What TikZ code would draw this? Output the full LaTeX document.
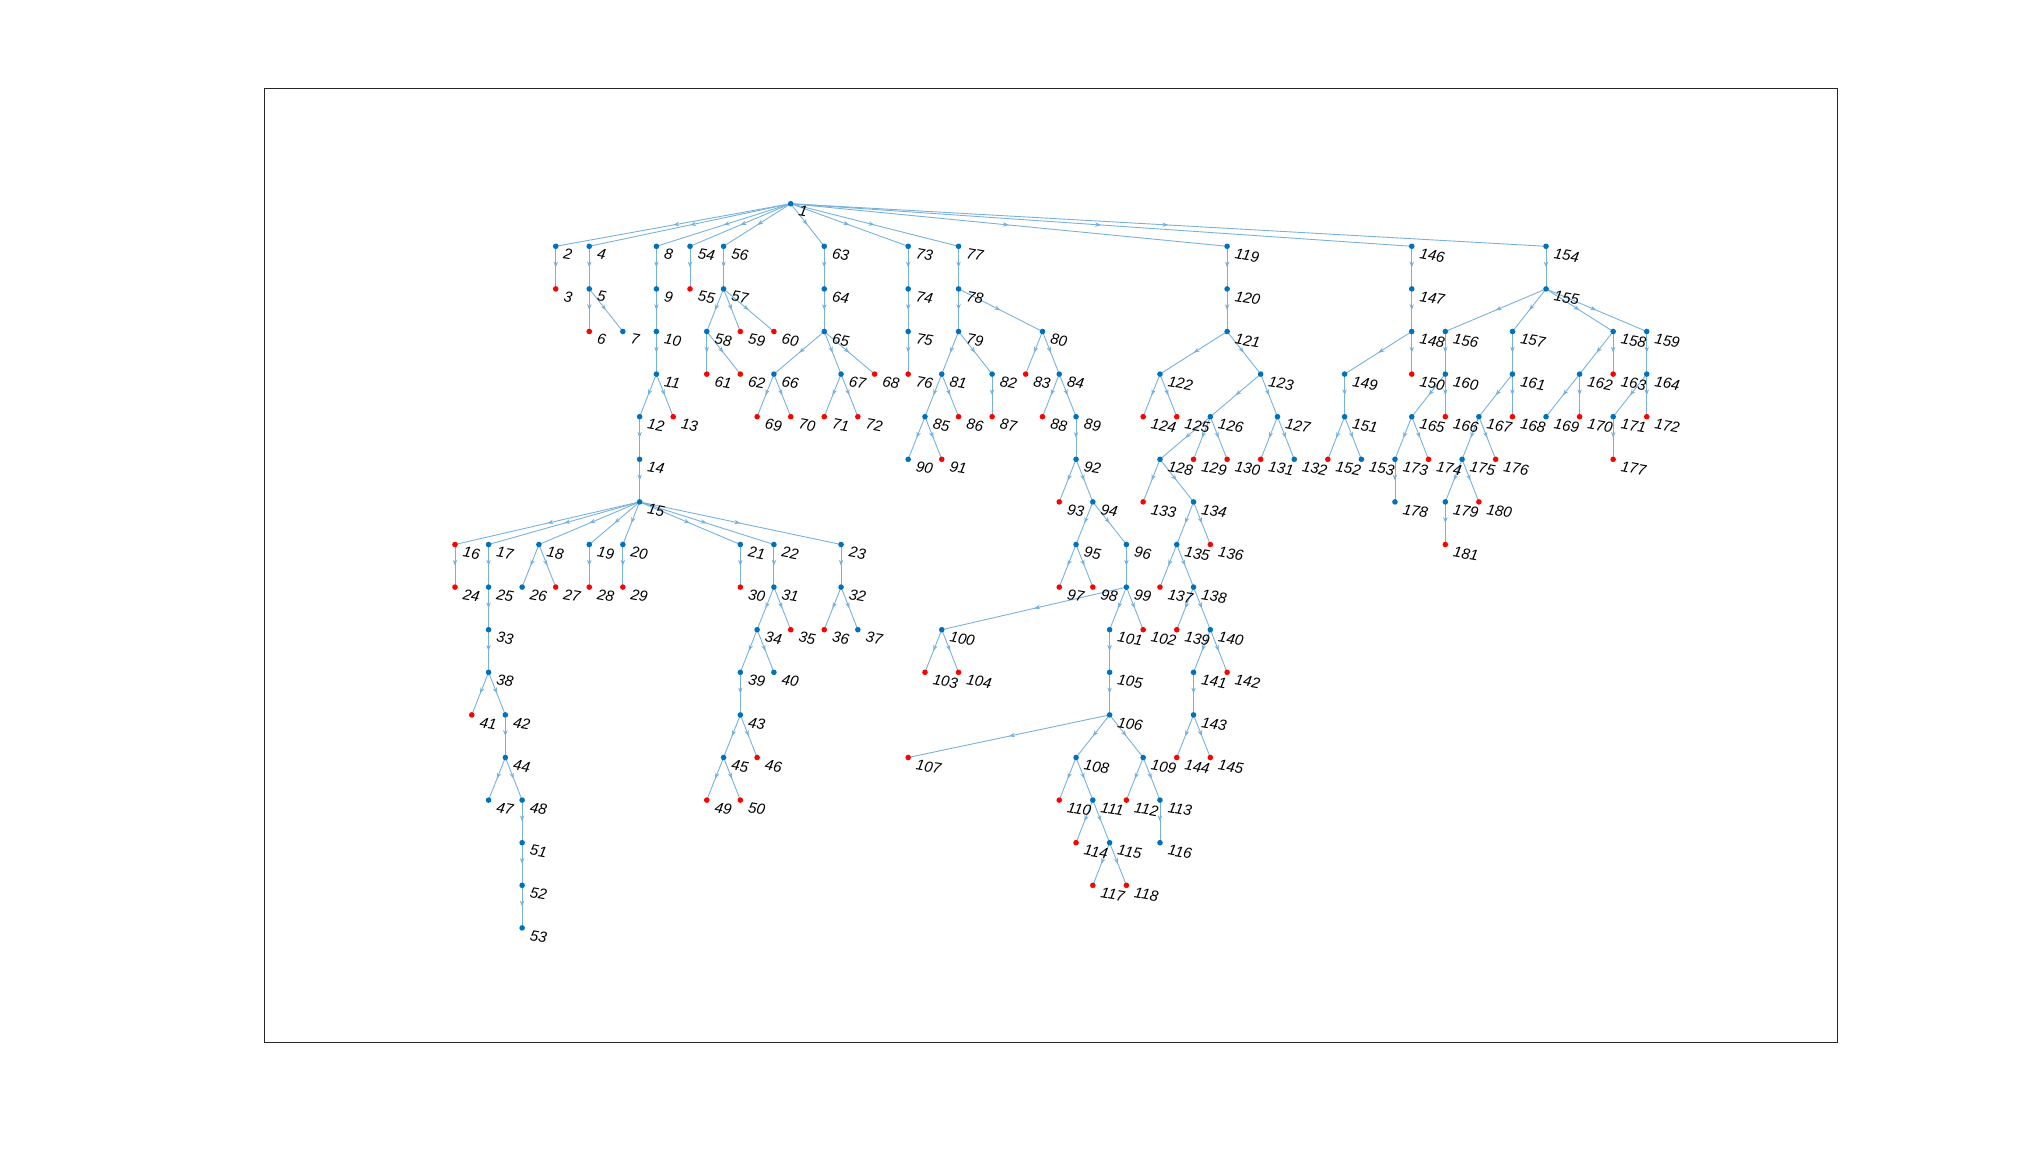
\documentclass[tikz,border=0pt]{standalone}
\usepackage{fontspec}
\newfontfamily\labfont{Liberation Sans}
\usetikzlibrary{arrows.meta,decorations.markings}
\pgfdeclarelayer{bg}
\pgfsetlayers{bg,main}
\definecolor{nblue}{rgb}{0,0.447,0.741}
\definecolor{nred}{rgb}{1,0,0}
\definecolor{ecol}{RGB}{120,178,220}
\definecolor{frame}{RGB}{38,38,38}
\tikzset{
  dotb/.style={circle,fill=nblue,inner sep=0pt,minimum size=5.6pt},
  dotr/.style={circle,fill=nred,inner sep=0pt,minimum size=5.6pt},
  lab/.style={anchor=west,inner sep=0pt,rotate=-10,font=\labfont\itshape\fontsize{15}{17}\selectfont},
  edge/.style={draw=ecol,line width=0.9pt,postaction={decorate},
    decoration={markings,mark=at position 0.5 with {\arrow[ecol]{Stealth[length=6pt,width=4.4pt,inset=1.8pt]}}}}
}
\begin{document}
\begin{tikzpicture}[x=1pt,y=-1pt]
\useasboundingbox (0,0) rectangle (2031,1172);
\draw[frame,line width=1pt] (264.5,88.5) rectangle (1837,1042);
\begin{scope}[shift={(555.7,203.7)},x=16.785pt,y=-42.6pt]
\foreach \n/\k/\l/\c in {
1/14/0/b,
2/0/1/b,3/0/2/r,
4/2/1/b,5/2/2/b,6/2/3/r,7/4/3/b,
8/6/1/b,9/6/2/b,10/6/3/b,11/6/4/b,12/5/5/b,13/7/5/r,14/5/6/b,15/5/7/b,
16/-6/8/r,17/-4/8/b,18/-1/8/b,19/2/8/b,20/4/8/b,21/11/8/b,22/13/8/b,23/17/8/b,
24/-6/9/r,25/-4/9/b,26/-2/9/b,27/0/9/r,28/2/9/r,29/4/9/r,30/11/9/r,31/13/9/b,32/17/9/b,
33/-4/10/b,34/12/10/b,35/14/10/r,36/16/10/r,37/18/10/b,
38/-4/11/b,39/11/11/b,40/13/11/b,
41/-5/12/r,42/-3/12/b,43/11/12/b,
44/-3/13/b,45/10/13/b,46/12/13/r,
47/-4/14/b,48/-2/14/b,49/9/14/r,50/11/14/r,
51/-2/15/b,52/-2/16/b,53/-2/17/b,
54/8/1/b,55/8/2/r,
56/10/1/b,57/10/2/b,58/9/3/b,59/11/3/r,60/13/3/r,61/9/4/r,62/11/4/r,
63/16/1/b,64/16/2/b,65/16/3/b,66/13/4/b,67/17/4/b,68/19/4/r,69/12/5/r,70/14/5/r,71/16/5/r,72/18/5/r,
73/21/1/b,74/21/2/b,75/21/3/b,76/21/4/r,
77/24/1/b,78/24/2/b,79/24/3/b,80/29/3/b,81/23/4/b,82/26/4/b,83/28/4/r,84/30/4/b,85/22/5/b,86/24/5/r,87/26/5/r,88/29/5/r,89/31/5/b,90/21/6/b,91/23/6/r,92/31/6/b,93/30/7/r,94/32/7/b,95/31/8/b,96/34/8/b,97/30/9/r,98/32/9/r,99/34/9/b,100/23/10/b,101/33/10/b,102/35/10/r,103/22/11/r,104/24/11/r,105/33/11/b,106/33/12/b,107/21/13/r,108/31/13/b,109/35/13/b,110/30/14/r,111/32/14/b,112/34/14/r,113/36/14/b,114/31/15/r,115/33/15/b,116/36/15/b,117/32/16/r,118/34/16/r,
119/40/1/b,120/40/2/b,121/40/3/b,122/36/4/b,123/42/4/b,124/35/5/r,125/37/5/r,126/39/5/b,127/43/5/b,128/36/6/b,129/38/6/r,130/40/6/r,131/42/6/r,132/44/6/b,133/35/7/r,134/38/7/b,135/37/8/b,136/39/8/r,137/36/9/r,138/38/9/b,139/37/10/r,140/39/10/b,141/38/11/b,142/40/11/r,143/38/12/b,144/37/13/r,145/39/13/r,
146/51/1/b,147/51/2/b,148/51/3/b,149/47/4/b,150/51/4/r,151/47/5/b,152/46/6/r,153/48/6/b,
154/59/1/b,155/59/2/b,156/53/3/b,157/57/3/b,158/63/3/b,159/65/3/b,160/53/4/b,161/57/4/b,162/61/4/b,163/63/4/r,164/65/4/b,165/51/5/b,166/53/5/r,167/55/5/b,168/57/5/r,169/59/5/b,170/61/5/r,171/63/5/b,172/65/5/r,173/50/6/b,174/52/6/r,175/54/6/b,176/56/6/r,177/63/6/r,178/50/7/b,179/53/7/b,180/55/7/r,181/53/8/r}
{
  \node[dot\c] (n\n) at (\k,\l) {};
  \node[lab] (t\n) at ([shift={(8pt,-7pt)}]n\n.center) {\n};
}
\begin{pgfonlayer}{bg}
\foreach \a/\b in {
1/2,1/4,1/8,1/54,1/56,1/63,1/73,1/77,1/119,1/146,1/154,
2/3,4/5,5/6,5/7,8/9,9/10,10/11,11/12,11/13,12/14,14/15,
15/16,15/17,15/18,15/19,15/20,15/21,15/22,15/23,
16/24,17/25,18/26,18/27,19/28,20/29,21/30,22/31,23/32,
25/33,31/34,31/35,32/36,32/37,33/38,34/39,34/40,38/41,38/42,39/43,42/44,43/45,43/46,44/47,44/48,45/49,45/50,48/51,51/52,52/53,
54/55,56/57,57/58,57/59,57/60,58/61,58/62,
63/64,64/65,65/66,65/67,65/68,66/69,66/70,67/71,67/72,
73/74,74/75,75/76,
77/78,78/79,78/80,79/81,79/82,80/83,80/84,81/85,81/86,82/87,84/88,84/89,85/90,85/91,89/92,92/93,92/94,94/95,94/96,95/97,95/98,96/99,99/100,99/101,99/102,100/103,100/104,101/105,105/106,106/107,106/108,106/109,108/110,108/111,109/112,109/113,111/114,111/115,113/116,115/117,115/118,
119/120,120/121,121/122,121/123,122/124,122/125,123/126,123/127,126/128,126/129,126/130,127/131,127/132,128/133,128/134,134/135,134/136,135/137,135/138,138/139,138/140,140/141,140/142,141/143,143/144,143/145,
146/147,147/148,148/149,148/150,149/151,151/152,151/153,
154/155,155/156,155/157,155/158,155/159,156/160,157/161,158/162,158/163,159/164,160/165,160/166,161/167,161/168,162/169,162/170,164/171,164/172,165/173,165/174,167/175,167/176,171/177,173/178,175/179,175/180,179/181}
{
  \path[edge] (n\a.center) -- (n\b.center);
}
\end{pgfonlayer}
\end{scope}
\end{tikzpicture}
\end{document}
